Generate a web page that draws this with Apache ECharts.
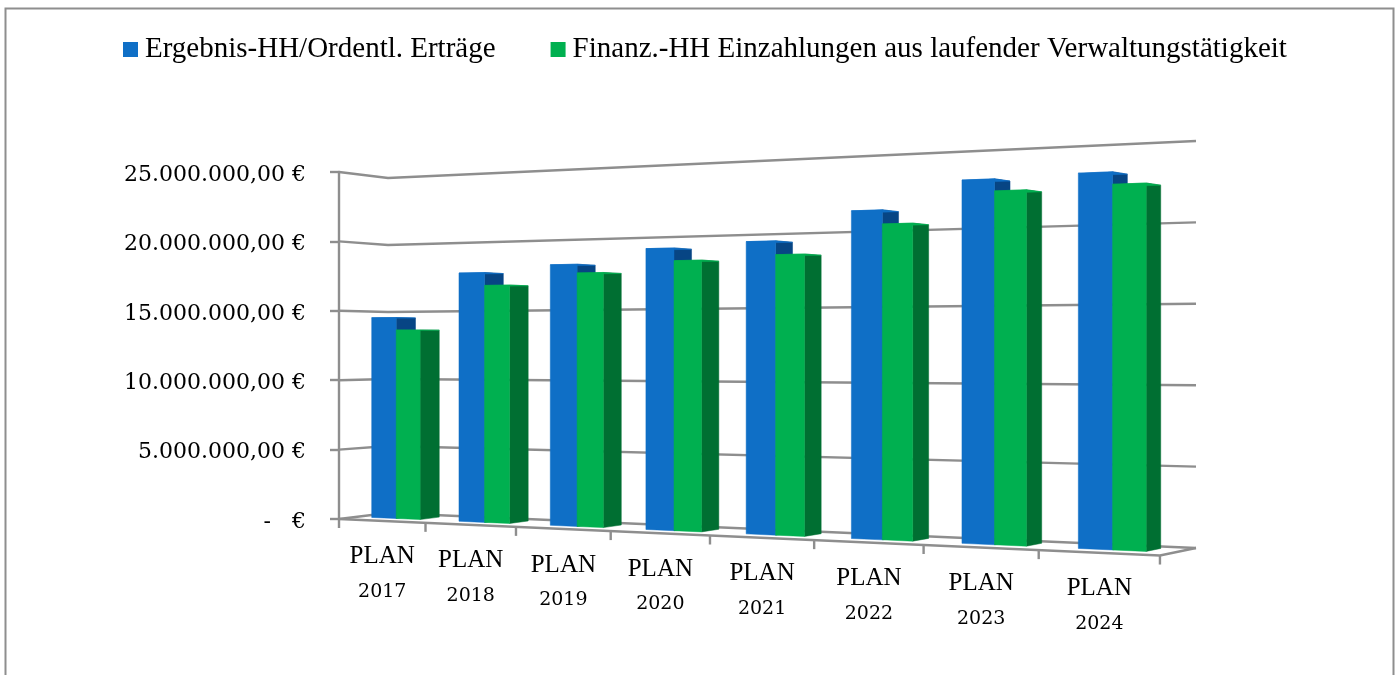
<!DOCTYPE html>
<html><head><meta charset="utf-8">
<style>html,body{margin:0;padding:0;background:#fff;overflow:hidden}#c{width:1399px;height:675px}</style>
<script src="https://cdn.jsdelivr.net/npm/echarts@6/dist/echarts.min.js"></script>
</head><body><div id="c"></div>
<script>
const categories = ['PLAN\n2017','PLAN\n2018','PLAN\n2019','PLAN\n2020','PLAN\n2021','PLAN\n2022','PLAN\n2023','PLAN\n2024'];
const ergebnis = [14500000,17600000,18050000,19000000,19300000,21100000,22800000,22950000];
const finanz = [13600000,16700000,17450000,18150000,18400000,20200000,22050000,22200000];
const valueTicks = [0,5000000,10000000,15000000,20000000,25000000];
const seriesNames = ['Ergebnis-HH/Ordentl. Erträge','Finanz.-HH Einzahlungen aus laufender Verwaltungstätigkeit'];

const GRID = '#8e8e8e', yMax = 25000000, n = categories.length;
const C = -0.02194;
const xF = t => (77.17*t + 339)/(1 + C*t);
const xB = t => (74.76*t + 388)/(1 + C*t);
const yF = x => 519 + (x-339)*0.0445;
const yB = x => 513 + (x-388)*(548-513)/(1196-388);
const hB = x => 335 + (x-388)*(407-335)/(1196-388);
const lerp = (a,b,d) => a + (b-a)*d;
function pt(t,d,f){
  const xf = xF(t), xb = xB(t);
  const y0 = lerp(yF(xf), yB(xb), d);
  const hb = hB(xb), h = lerp(hb*347/335, hb, d);
  return [lerp(xf,xb,d), y0 - f*h];
}
const frac = (api,v) => { const z = api.coord([0,0])[1]; return (z - api.coord([0,v])[1])/(z - api.coord([0,yMax])[1]); };
const poly = (points,fill) => ({type:'polygon',shape:{points},style:{fill,stroke:fill,lineWidth:0.5}});
const line = (points,w) => ({type:'polyline',shape:{points},style:{stroke:GRID,lineWidth:w||2.4,fill:null}});
const D0 = 0.2, D1 = 0.6, LIFT = 0.004;

function barRender(t0,t1,front,dark){
  return function(params,api){
    const i = api.value(0), f = frac(api,api.value(1)), a = i+t0, b = i+t1;
    return {type:'group',children:[
      poly([pt(b,D0,LIFT),pt(b,D1,LIFT),pt(b,D1,f),pt(b,D0,f)],dark),
      poly([pt(a,D0,f),pt(b,D0,f),pt(b,D1,f),pt(a,D1,f)],front),
      poly([pt(a,D0,LIFT),pt(b,D0,LIFT),pt(b,D0,f),pt(a,D0,f)],front)
    ]};
  };
}
const chart = echarts.init(document.getElementById('c'));
const serif = '"Liberation Serif", serif';
chart.setOption({
  animation:false, backgroundColor:'#fff',
  graphic:[{type:'rect',shape:{x:5.5,y:8.5,width:1388,height:700},style:{fill:null,stroke:'#8e8e8e',lineWidth:2},silent:true}],
  legend:{data:seriesNames,left:118,top:30,icon:'rect',itemWidth:15,itemHeight:15,itemGap:55,
    textStyle:{fontFamily:serif,fontSize:29,color:'#000',padding:[0,0,0,2]},selectedMode:false},
  grid:{left:339,top:172,width:857,height:347},
  xAxis:{type:'category',data:categories,show:false},
  yAxis:{type:'value',min:0,max:yMax,interval:5000000,
    axisLine:{show:true,lineStyle:{color:GRID,width:2.4}},
    axisTick:{show:true,length:9,lineStyle:{color:GRID,width:2.4}},
    splitLine:{show:false},
    axisLabel:{margin:33,color:'#000',
      rich:{a:{fontFamily:'"DejaVu Serif", serif',fontSize:22,color:'#000',padding:[6,0,0,0]}},
      formatter:v=> '{a|' + (v===0 ? '-   €' : v.toLocaleString('de-DE',{minimumFractionDigits:2,maximumFractionDigits:2})+' €') + '}'}},
  series:[
    {type:'custom',name:'grid',z:1,silent:true,data:valueTicks.map(v=>[0,v]),encode:{x:0,y:1},
      renderItem(params,api){ const f = frac(api,api.value(1));
        return line([pt(0,0,f),pt(0,1,f),pt(n,1,f)]); }},
    {type:'custom',name:'floor',z:1,silent:true,data:categories.map((c,i)=>[i,0]).concat([[n,0]]),encode:{x:0,y:1},
      renderItem(params,api){ const i = api.value(0), p = pt(i,0,0);
        const kids = [line([p,[p[0],p[1]+9]])];
        if(i===n){ kids.push(line([pt(0,0,0),p,pt(n,1,0)])); }
        return {type:'group',children:kids}; }},
    {type:'custom',name:seriesNames[0],z:2,silent:true,itemStyle:{color:'#0F6FC6'},data:ergebnis.map((v,i)=>[i,v]),encode:{x:0,y:1},
      renderItem:barRender(0.27,0.555,'#0F6FC6','#074584')},
    {type:'custom',name:seriesNames[1],z:3,silent:true,itemStyle:{color:'#00B050'},data:finanz.map((v,i)=>[i,v]),encode:{x:0,y:1},
      renderItem:barRender(0.555,0.83,'#00B050','#006F32')},
    {type:'custom',name:'labels',z:4,silent:true,data:categories.map((c,i)=>[i,0]),encode:{x:0,y:1},
      renderItem(params,api){ const i = api.value(0), a = pt(i,0,0), b = pt(i+1,0,0);
        const parts = categories[i].split('\n'), x = (a[0]+b[0])/2, y = (a[1]+b[1])/2 + 36;
        return {type:'group',children:[
          {type:'text',style:{x,y,text:parts[0],align:'center',verticalAlign:'middle',fontFamily:serif,fontSize:25,fill:'#000'}},
          {type:'text',style:{x,y:y+35,text:parts[1],align:'center',verticalAlign:'middle',fontFamily:'"DejaVu Serif", serif',fontSize:19,fill:'#000'}}
        ]}; }}
  ]
});
</script></body></html>
